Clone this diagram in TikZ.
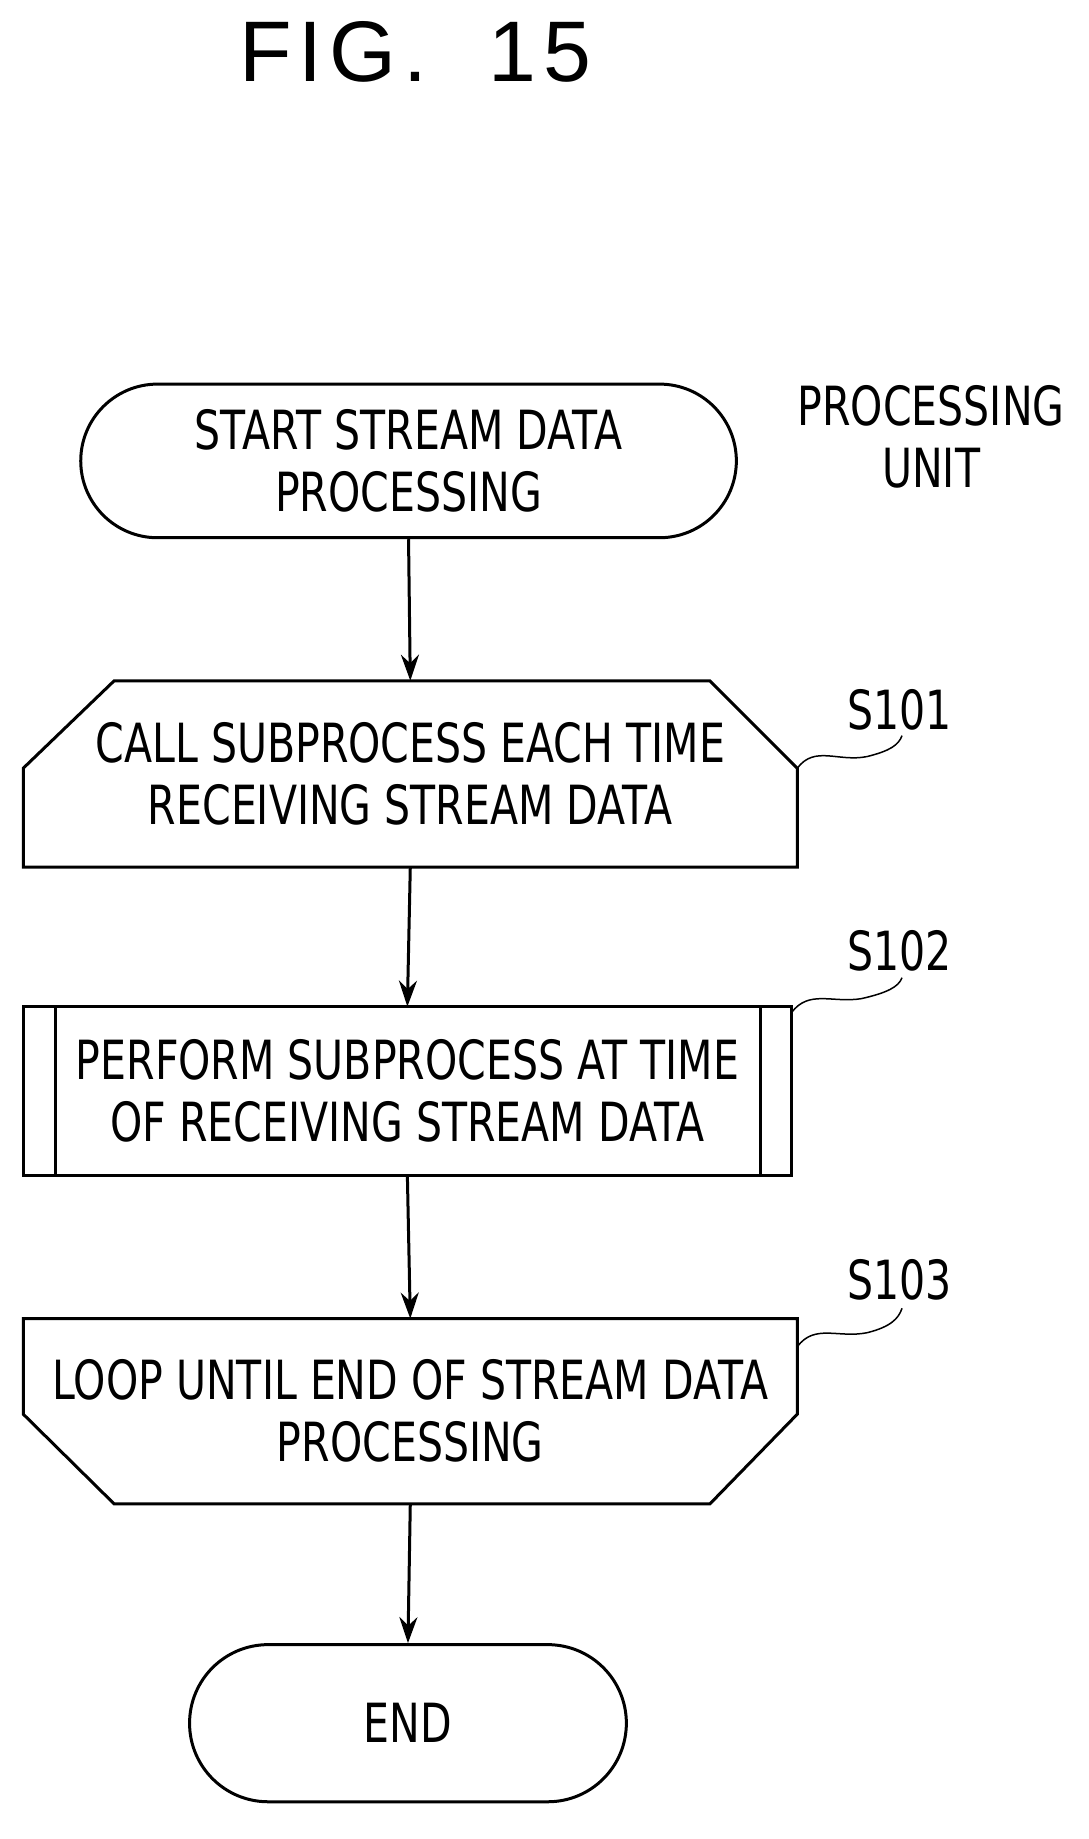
\documentclass[tikz,border=0pt]{standalone}
\usepackage{fontspec}
\setmainfont{DejaVu Sans}[FakeStretch=0.76]
\newfontfamily\titlefont{Liberation Sans}[LetterSpace=8]
\usetikzlibrary{shapes.misc,arrows.meta}
\begin{document}
\begin{tikzpicture}[x=1.164pt,y=-1.164pt,
  lw/.style={line width=3pt},
  tf/.style={font=\fontsize{54}{62}\selectfont},
  box/.style={tf,draw=none,minimum width=665*1.164pt,inner sep=0pt,align=center},
  arr/.style={lw,-{Stealth[length=26pt,width=18pt]}},
  lbl/.style={tf},
  sq/.style={line width=1.5pt}]
\useasboundingbox (0,0) rectangle (935,1580);
\node[font=\titlefont\fontsize{86}{90}\selectfont] (title) at (357,45) {FIG.\ \ 15};
\node[lw,draw,rounded rectangle,minimum width=569*1.164pt,minimum height=132*1.164pt,align=center,tf] (start) at (351,396) {START STREAM DATA\\PROCESSING};
\node[lbl,align=center] (pu) at (800,375) {PROCESSING\\UNIT};
% S101
\node[box,minimum height=160*1.164pt] (s1) at (352.5,665) {CALL SUBPROCESS EACH TIME\\RECEIVING STREAM DATA};
\draw[lw] (98,585) -- (610,585) -- (685,660) -- (685,745) -- (20,745) -- (20,660) -- cycle;
% S102
\node[box,minimum height=145*1.164pt,minimum width=660*1.164pt] (s2) at (350,937.5) {PERFORM SUBPROCESS AT TIME\\OF RECEIVING STREAM DATA};
\draw[lw] (20,865) rectangle (680,1010);
\draw[lw] (48,865) -- (48,1010) (653,865) -- (653,1010);
% S103
\node[box,minimum height=159*1.164pt] (s3) at (352.5,1212.5) {LOOP UNTIL END OF STREAM DATA\\PROCESSING};
\draw[lw] (20,1133) -- (685,1133) -- (685,1215) -- (610,1292) -- (98,1292) -- (20,1215) -- cycle;
% END
\node[lw,draw,rounded rectangle,minimum width=381*1.164pt,minimum height=135*1.164pt,tf] (end) at (350.5,1480.5) {END};
% arrows
\draw[arr] (start.south) -- (s1.north);
\draw[arr] (s1.south) -- (s2.north);
\draw[arr] (s2.south) -- (s3.north);
\draw[arr] (s3.south) -- (end.north);
% labels
\node[lbl] (l1) at (773,610) {S101};
\node[lbl] (l2) at (773,817) {S102};
\node[lbl] (l3) at (773,1100) {S103};
\coordinate (c1) at (685,660);
\coordinate (c2) at (680,870);
\coordinate (c3) at (685,1157);
\draw[sq] (c1) .. controls (700,640) and (720,655) .. (745,650) .. controls (765,645) and (772,640) .. (775,632);
\draw[sq] (c2) .. controls (695,850) and (715,862) .. (740,858) .. controls (762,853) and (772,848) .. (775,840);
\draw[sq] (c3) .. controls (700,1137) and (720,1150) .. (745,1145) .. controls (765,1140) and (772,1133) .. (775,1124);
\end{tikzpicture}
\end{document}
